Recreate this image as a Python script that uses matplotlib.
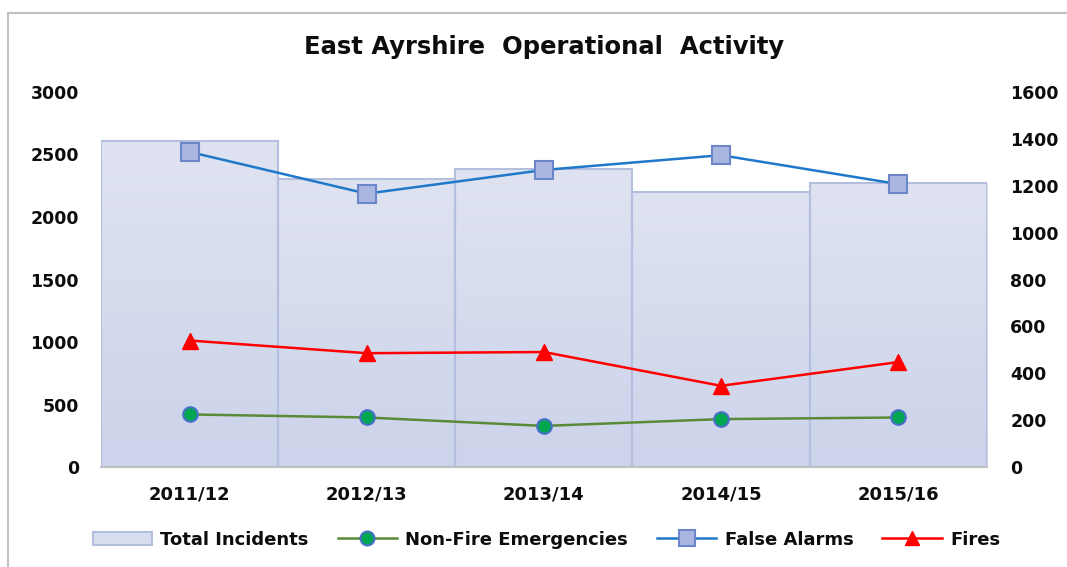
import numpy as np
import matplotlib.pyplot as plt
from matplotlib.colors import LinearSegmentedColormap
from matplotlib.lines import Line2D
from matplotlib.patches import Patch

# Data
years = ["2011/12", "2012/13", "2013/14", "2014/15", "2015/16"]
total_incidents = [2610, 2305, 2385, 2200, 2270]   # left axis
non_fire = [225, 212, 176, 205, 212]               # right axis
false_alarms = [1344, 1166, 1267, 1330, 1207]      # right axis
fires = [540, 486, 491, 347, 448]                  # right axis

txt = "#0d0d0d"
fs = 12.5

fig = plt.figure(figsize=(10.67, 5.67), dpi=100)
ax = fig.add_axes([0.0947, 0.176, 0.830, 0.662])
x = np.arange(len(years))

# bars with a soft vertical gradient
bars = ax.bar(x, total_incidents, width=1.0, facecolor="none",
              edgecolor="#b4bfe0", linewidth=1.5, zorder=2)
cmap = LinearSegmentedColormap.from_list("g", ["#ccd3ea", "#dfe3f1"])
grad = np.linspace(0, 1, 200).reshape(-1, 1)
for b in bars:
    im = ax.imshow(grad, cmap=cmap, aspect="auto", origin="lower",
                   extent=[b.get_x(), b.get_x() + b.get_width(), 0, b.get_height()],
                   zorder=1)
    im.set_clip_path(b)

ax.set_xlim(-0.5, len(years) - 0.5)
ax.set_ylim(0, 3000)
ax.set_yticks(range(0, 3001, 500))
ax.set_xticks(x)
ax.set_xticklabels(years)
for s in ["top", "left", "right"]:
    ax.spines[s].set_visible(False)
ax.spines["bottom"].set_color("#bfbfbf")
ax.spines["bottom"].set_linewidth(1.5)
ax.tick_params(axis="y", length=0, pad=16, labelsize=fs, labelcolor=txt)
ax.tick_params(axis="x", length=0, pad=13, labelsize=13, labelcolor=txt)
for lab in ax.get_xticklabels() + ax.get_yticklabels():
    lab.set_fontweight("bold")

# lines on the secondary axis
ax2 = ax.twinx()
ax2.plot(x, non_fire, color="#5a8a37", lw=1.8, marker="o", ms=10.5,
         mfc="#00a650", mec="#4a6fc9", mew=1.5, zorder=3)
ax2.plot(x, false_alarms, color="#1f78c8", lw=1.8, marker="s", ms=13,
         mfc="#a9b7e0", mec="#6d86c9", mew=1.5, zorder=3)
ax2.plot(x, fires, color="#ff0000", lw=1.8, marker="^", ms=11.5,
         mfc="#ff0000", mec="#ff0000", zorder=3)
ax2.set_ylim(0, 1600)
ax2.set_yticks(range(0, 1601, 200))
for s in ["top", "left", "right", "bottom"]:
    ax2.spines[s].set_visible(False)
ax2.tick_params(axis="y", length=0, pad=17, labelsize=fs, labelcolor=txt)
for lab in ax2.get_yticklabels():
    lab.set_fontweight("bold")

fig.text(0.51, 0.917, "East Ayrshire  Operational  Activity", ha="center", va="center",
         fontsize=17.5, fontweight="bold", color=txt)

handles = [
    Patch(facecolor="#d9deef", edgecolor="#b4bfe0", lw=1.5),
    Line2D([], [], color="#5a8a37", lw=1.8, marker="o", ms=10, mfc="#00a650", mec="#4a6fc9", mew=1.5),
    Line2D([], [], color="#1f78c8", lw=1.8, marker="s", ms=11, mfc="#a9b7e0", mec="#6d86c9", mew=1.5),
    Line2D([], [], color="#ff0000", lw=1.8, marker="^", ms=10, mfc="#ff0000", mec="#ff0000"),
]
labels = ["Total Incidents", "Non-Fire Emergencies", "False Alarms", "Fires"]
fig.legend(handles, labels, loc="center", bbox_to_anchor=(0.512, 0.048), ncol=4,
           frameon=False, handlelength=3.3, handletextpad=0.45, columnspacing=1.6,
           prop={"size": 13, "weight": "bold"}, labelcolor=txt)

# chart border (cropped at right and bottom)
fig.add_artist(Line2D([8 / 1067, 1], [1 - 13 / 567] * 2, transform=fig.transFigure,
                      color="#c0c0c0", lw=1.5))
fig.add_artist(Line2D([8 / 1067] * 2, [0, 1 - 13 / 567], transform=fig.transFigure,
                      color="#c0c0c0", lw=1.5))

fig.savefig("out.png", dpi=100)
